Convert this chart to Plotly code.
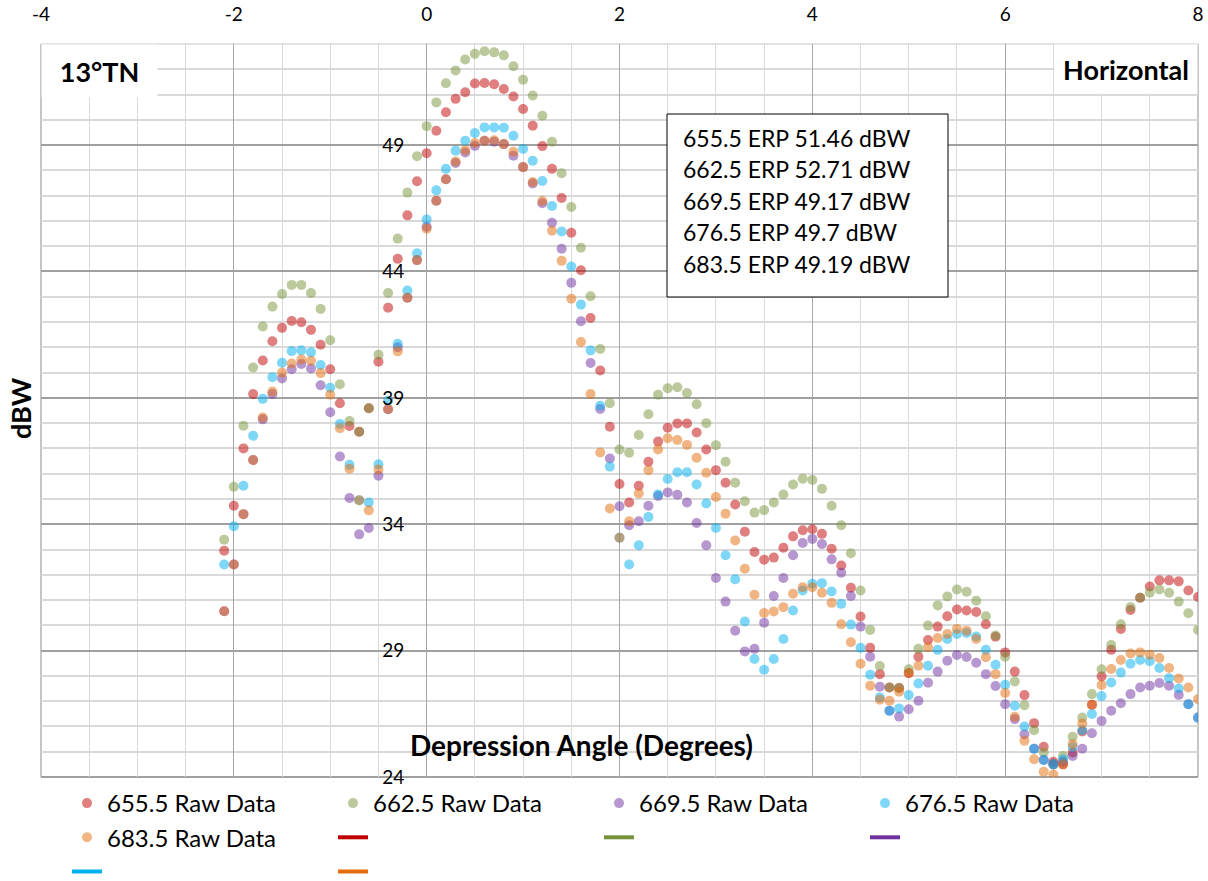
import plotly.graph_objects as go

# Depression angles (degrees), 0.1 deg steps from -2.1 to 8.0
angles = [
    -2.1, -2.0, -1.9, -1.8, -1.7, -1.6, -1.5, -1.4, -1.3, -1.2, -1.1, -1.0,
    -0.9, -0.8, -0.7, -0.6, -0.5, -0.4, -0.3, -0.2, -0.1, 0.0, 0.1, 0.2,
    0.3, 0.4, 0.5, 0.6, 0.7, 0.8, 0.9, 1.0, 1.1, 1.2, 1.3, 1.4, 1.5, 1.6,
    1.7, 1.8, 1.9, 2.0, 2.1, 2.2, 2.3, 2.4, 2.5, 2.6, 2.7, 2.8, 2.9, 3.0,
    3.1, 3.2, 3.3, 3.4, 3.5, 3.6, 3.7, 3.8, 3.9, 4.0, 4.1, 4.2, 4.3, 4.4,
    4.5, 4.6, 4.7, 4.8, 4.9, 5.0, 5.1, 5.2, 5.3, 5.4, 5.5, 5.6, 5.7, 5.8,
    5.9, 6.0, 6.1, 6.2, 6.3, 6.4, 6.5, 6.6, 6.7, 6.8, 6.9, 7.0, 7.1, 7.2,
    7.3, 7.4, 7.5, 7.6, 7.7, 7.8, 7.9, 8.0,
]

# Measured ERP (dBW) per channel
raw_655 = [
    32.95, 34.73, 37.00, 39.15, 40.48, 41.24, 41.77, 42.04, 41.99, 41.69, 41.10, 40.13,
    38.79, 37.89, 37.66, 38.59, 40.43, 42.57, 44.50, 46.22, 47.57, 48.68, 49.57, 50.30,
    50.83, 51.09, 51.44, 51.46, 51.41, 51.22, 50.92, 50.43, 49.77, 48.96, 48.06, 46.91,
    45.53, 44.05, 42.16, 40.08, 37.86, 35.59, 34.86, 35.52, 36.47, 37.27, 37.82, 37.99,
    37.99, 37.63, 36.96, 36.14, 35.64, 34.78, 33.70, 32.90, 32.60, 32.68, 33.07, 33.52,
    33.76, 33.80, 33.62, 33.03, 32.37, 31.49, 30.35, 29.11, 28.07, 27.54, 27.52, 28.11,
    28.76, 29.42, 29.95, 30.36, 30.63, 30.59, 30.53, 30.04, 29.55, 28.93, 28.17, 27.24,
    26.13, 25.20, 24.60, 24.50, 24.97, 25.80, 26.86, 27.98, 29.03, 29.86, 30.61, 31.09,
    31.54, 31.78, 31.78, 31.74, 31.38, 31.12,
]
raw_662 = [
    33.39, 35.48, 37.90, 40.20, 41.82, 42.61, 43.11, 43.47, 43.47, 43.15, 42.52, 41.28,
    39.54, 38.08, 37.66, 38.59, 40.71, 43.15, 45.30, 47.12, 48.56, 49.75, 50.69, 51.45,
    51.95, 52.39, 52.61, 52.71, 52.67, 52.55, 52.12, 51.59, 50.96, 50.16, 49.13, 47.89,
    46.55, 44.94, 43.02, 40.93, 38.79, 36.96, 36.83, 37.53, 38.35, 39.12, 39.38, 39.42,
    39.19, 38.75, 38.00, 37.13, 36.47, 35.64, 34.91, 34.46, 34.56, 34.86, 35.18, 35.57,
    35.80, 35.75, 35.40, 34.73, 33.96, 32.85, 31.38, 29.82, 28.39, 27.54, 27.52, 28.26,
    29.07, 29.99, 30.79, 31.14, 31.42, 31.33, 30.97, 30.36, 29.60, 28.76, 27.78, 26.84,
    25.85, 24.97, 24.50, 24.83, 25.59, 26.35, 27.28, 28.26, 29.22, 30.04, 30.72, 31.09,
    31.29, 31.42, 31.29, 30.94, 30.48, 29.82,
]
raw_669 = [
    30.56, 32.41, 34.40, 36.54, 38.15, 39.15, 39.77, 40.13, 40.34, 40.16, 39.50, 38.43,
    36.68, 35.04, 33.60, 33.85, 35.92, 38.55, 41.00, 42.96, 44.45, 45.77, 46.80, 47.65,
    48.29, 48.71, 48.97, 49.17, 49.13, 49.04, 48.58, 48.13, 47.48, 46.70, 45.93, 44.90,
    43.55, 42.03, 40.38, 38.56, 36.60, 34.71, 33.96, 34.12, 34.73, 35.12, 35.26, 35.17,
    34.86, 34.05, 33.17, 31.87, 30.94, 29.79, 28.97, 29.07, 30.10, 31.16, 31.87, 32.77,
    33.26, 33.42, 33.22, 32.61, 32.08, 31.16, 29.95, 28.76, 27.57, 26.62, 26.39, 26.68,
    27.02, 27.73, 28.17, 28.60, 28.83, 28.75, 28.52, 28.07, 27.60, 26.88, 26.29, 25.69,
    25.12, 24.67, 24.50, 24.60, 24.83, 25.12, 25.73, 26.22, 26.62, 26.92, 27.28, 27.54,
    27.61, 27.72, 27.61, 27.25, 26.88, 26.35,
]
raw_676 = [
    32.41, 33.92, 35.52, 37.50, 38.96, 39.82, 40.39, 40.85, 40.88, 40.80, 40.30, 39.40,
    37.97, 36.35, 34.95, 34.86, 36.37, 38.89, 41.14, 43.25, 44.72, 46.06, 47.21, 48.06,
    48.78, 49.17, 49.48, 49.70, 49.70, 49.69, 49.37, 48.85, 48.38, 47.58, 46.59, 45.58,
    44.20, 42.69, 40.88, 38.69, 36.28, 33.47, 32.41, 33.17, 34.29, 35.18, 35.79, 36.06,
    36.06, 35.57, 34.82, 33.85, 32.77, 31.82, 30.15, 28.67, 28.24, 28.67, 29.46, 30.59,
    31.38, 31.65, 31.67, 31.34, 30.85, 30.03, 29.11, 28.05, 27.15, 26.62, 26.71, 27.24,
    27.70, 28.40, 29.03, 29.46, 29.66, 29.70, 29.56, 29.03, 28.44, 27.65, 26.82, 26.00,
    25.12, 24.67, 24.50, 24.70, 25.19, 25.85, 26.49, 27.20, 27.74, 28.13, 28.48, 28.63,
    28.58, 28.31, 27.91, 27.50, 26.88, 26.35,
]
raw_683 = [
    30.56, 32.41, 34.40, 36.54, 38.22, 39.25, 40.00, 40.36, 40.52, 40.47, 39.98, 39.12,
    37.80, 36.20, 34.95, 34.55, 36.17, 38.55, 40.84, 42.96, 44.45, 45.69, 46.80, 47.65,
    48.35, 48.80, 49.08, 49.17, 49.19, 49.04, 48.74, 48.13, 47.54, 46.79, 45.61, 44.42,
    42.92, 41.21, 39.15, 36.84, 34.62, 33.47, 34.12, 35.22, 36.14, 36.96, 37.40, 37.33,
    37.14, 36.63, 36.04, 35.08, 34.42, 33.36, 32.24, 31.21, 30.49, 30.55, 30.72, 31.25,
    31.51, 31.51, 31.29, 30.89, 30.04, 29.33, 28.48, 27.61, 27.06, 27.02, 27.37, 28.11,
    28.40, 29.13, 29.50, 29.66, 29.86, 29.79, 29.46, 28.74, 28.07, 27.32, 26.38, 25.43,
    24.70, 24.21, 24.10, 24.50, 25.30, 26.12, 26.86, 27.64, 28.27, 28.63, 28.89, 28.93,
    28.84, 28.71, 28.31, 27.90, 27.54, 27.08,
]

channels = ["655.5", "662.5", "669.5", "676.5", "683.5"]
series = [raw_655, raw_662, raw_669, raw_676, raw_683]
erp_peaks = ["51.46", "52.71", "49.17", "49.7", "49.19"]
line_colors = ["#C00000", "#77933C", "#7030A0", "#00B0F0", "#E46C0A"]
marker_colors = [
    "rgba(192,0,0,0.50)",
    "rgba(119,147,60,0.50)",
    "rgba(112,48,160,0.50)",
    "rgba(0,176,240,0.50)",
    "rgba(228,108,10,0.50)",
]

x_tickvals = [-4, -2, 0, 2, 4, 6, 8]
x_ticktext = ["-4", "-2", "0", "2", "4", "6", "8"]

FONT = "Lato"

fig = go.Figure()

for ch, vals, mc in zip(channels, series, marker_colors):
    fig.add_trace(go.Scatter(
        x=angles, y=vals, mode="markers", name=f"{ch} Raw Data",
        marker=dict(color=mc, size=10, line=dict(width=0)),
    ))

# trend-line legend entries (no label text)
for lc in line_colors:
    fig.add_trace(go.Scatter(
        x=[None], y=[None], mode="lines", name=" ",
        line=dict(color=lc, width=4),
    ))

L, R, T, B = 41, 10, 44, 104
W, H = 1208, 881
PW, PH = W - L - R, H - T - B


def px_x(p):
    return (p - L) / PW


def px_y(p):
    return (H - B - p) / PH


fig.update_layout(
    width=W, height=H,
    margin=dict(l=L, r=R, t=T, b=B, autoexpand=False),
    paper_bgcolor="white", plot_bgcolor="white",
    font=dict(family=FONT, color="black"),
    showlegend=True,
    legend=dict(
        orientation="h", x=px_x(67), y=-(781 - (H - B)) / PH,
        xanchor="left", yanchor="top",
        font=dict(family=FONT, size=24, color="black"),
        entrywidth=221, entrywidthmode="pixels",
        bgcolor="rgba(0,0,0,0)", traceorder="normal",
    ),
    xaxis=dict(
        range=[-4, 8], side="top",
        tickmode="array", tickvals=x_tickvals, ticktext=x_ticktext,
        showgrid=True, gridcolor="#a6a6a6", gridwidth=1.3,
        minor=dict(dtick=0.5, showgrid=True, gridcolor="#d9d9d9", gridwidth=1.3),
        ticks="outside", ticklen=14, tickcolor="rgba(0,0,0,0)",
        tickfont=dict(family=FONT, size=19, color="black"),
        zeroline=False, showline=False,
    ),
    yaxis=dict(
        range=[24, 53], tick0=24, dtick=5,
        showgrid=True, gridcolor="#a0a0a0", gridwidth=2,
        minor=dict(dtick=1, showgrid=True, gridcolor="#d9d9d9", gridwidth=1.5),
        anchor="free", position=px_x(426),
        ticks="outside", ticklen=18, tickcolor="rgba(0,0,0,0)",
        tickfont=dict(family=FONT, size=19, color="black"),
        zeroline=False, showline=False,
    ),
)

# plot-area border
fig.add_shape(type="line", xref="paper", yref="paper", x0=0, x1=0, y0=0, y1=1,
              line=dict(color="#a6a6a6", width=1.3), layer="below")
fig.add_shape(type="line", xref="paper", yref="paper", x0=1, x1=1, y0=0, y1=1,
              line=dict(color="#a6a6a6", width=1.3), layer="below")
fig.add_shape(type="line", xref="paper", yref="paper", x0=0, x1=1, y0=0, y1=0,
              line=dict(color="#a0a0a0", width=2), layer="below")
fig.add_shape(type="line", xref="paper", yref="paper", x0=0, x1=1, y0=1, y1=1,
              line=dict(color="#d9d9d9", width=1.3), layer="below")

# ERP summary box
fig.add_shape(type="rect", xref="paper", yref="paper",
              x0=px_x(667), x1=px_x(948), y0=px_y(297), y1=px_y(114),
              fillcolor="white", line=dict(color="black", width=1), layer="above")
for i, (ch, pk) in enumerate(zip(channels, erp_peaks)):
    fig.add_annotation(
        xref="paper", yref="paper", x=px_x(681), y=px_y(137.5 + 31.6 * i),
        xanchor="left", yanchor="middle", align="left", showarrow=False,
        text=f"{ch} ERP {pk} dBW", font=dict(family=FONT, size=23, color="black"),
    )

# corner labels on white panels
fig.add_annotation(
    xref="paper", yref="paper", x=px_x(99.5), y=px_y(71),
    xanchor="center", yanchor="middle", showarrow=False,
    text="<b>13°TN</b>", font=dict(family=FONT, size=27, color="black"),
    bgcolor="white", width=115, height=52, borderpad=0,
)
fig.add_annotation(
    xref="paper", yref="paper", x=px_x(1126), y=px_y(69),
    xanchor="center", yanchor="middle", showarrow=False,
    text="<b>Horizontal</b>", font=dict(family=FONT, size=27, color="black"),
    bgcolor="white", width=142, height=48, borderpad=0,
)

# axis titles
fig.add_annotation(
    xref="paper", yref="paper", x=px_x(581), y=px_y(745),
    xanchor="center", yanchor="middle", showarrow=False,
    text="<b>Depression Angle (Degrees)</b>", font=dict(family=FONT, size=28, color="black"),
)
fig.add_annotation(
    xref="paper", yref="paper", x=px_x(20), y=px_y(408),
    xanchor="center", yanchor="middle", showarrow=False, textangle=-90,
    text="<b>dBW</b>", font=dict(family=FONT, size=27, color="black"),
)

fig.write_html("out.html")
